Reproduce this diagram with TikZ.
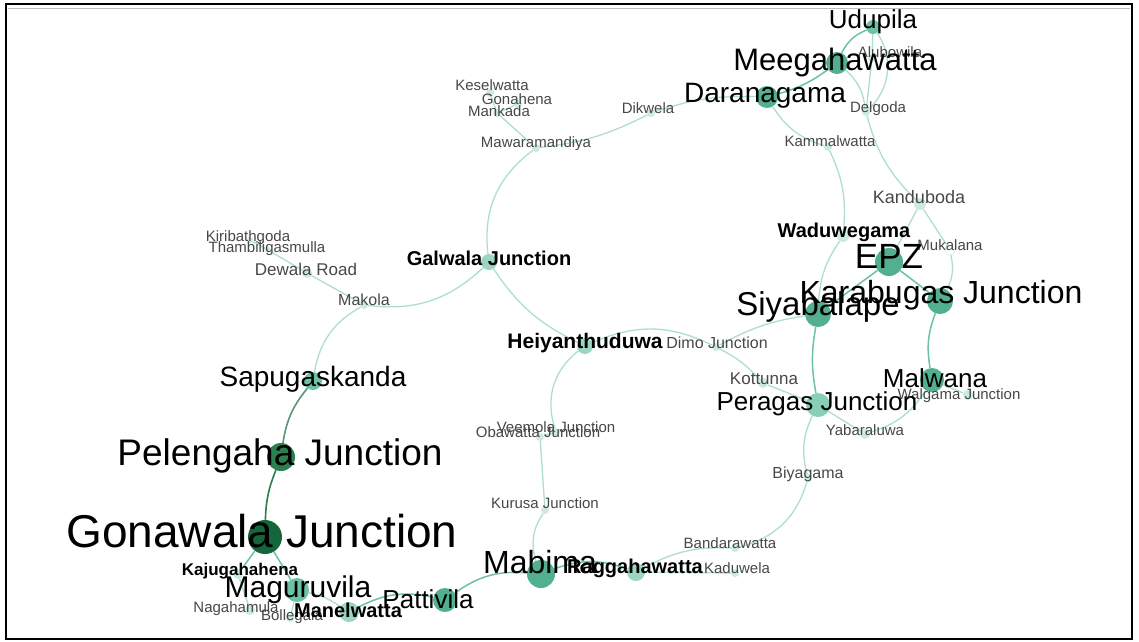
\documentclass[tikz,border=0pt]{standalone}
\usepackage{fontspec}
\setmainfont{Liberation Sans}
\usetikzlibrary{positioning}

\definecolor{gdark}{HTML}{15673B}
\definecolor{gdeep}{HTML}{2C7F4E}
\definecolor{gmid}{HTML}{52B08F}
\definecolor{gsoft}{HTML}{6CC2A4}
\definecolor{gpale}{HTML}{9AD6C0}
\definecolor{gfaint}{HTML}{CBEBDF}
\definecolor{ewire}{HTML}{AEDFCD}
\newcommand{\fsz}[1]{\fontsize{#1}{#1}\selectfont}

\begin{document}
\begin{tikzpicture}[
    x=1pt, y=-1pt,
    dot/.style={circle, inner sep=0pt, draw=none, fill=gfaint, minimum size=8pt},
    lbl/.style={anchor=base, inner sep=0pt, text=black},
    minor/.style={lbl, text=black!72, font=\fsz{15}},
    wire/.style={draw=ewire, line width=1.3pt},
    strong/.style={draw=gsoft, line width=1.5pt}
]
    \useasboundingbox (0,0) rectangle (1139,641);
    \fill[white] (0,0) rectangle (1139,641);
    \draw[black!25, line width=1pt] (8,8) -- (1130,8);
    \draw[black, line width=2pt] (6,4) rectangle (1132,639);

    % stations
    \node[dot, minimum size=14pt, fill=gsoft] (udu) at (873,27) {};
    \node[dot, minimum size=22pt, fill=gmid] (meeg) at (837,63) {};
    \node[dot] (alub) at (872,58) {};
    \node[dot, minimum size=22pt, fill=gmid] (dara) at (767,97) {};
    \node[dot] (delg) at (866,112) {};
    \node[dot] (kamm) at (828,147) {};
    \node[dot] (dikw) at (651,113) {};
    \node[dot] (kese) at (490,93) {};
    \node[dot] (gona) at (518,104) {};
    \node[dot] (mank) at (497,113) {};
    \node[dot] (mawa) at (536,148) {};
    \node[dot, minimum size=6pt] (kiri) at (250,240) {};
    \node[dot, minimum size=6pt] (tham) at (268,250) {};
    \node[dot, minimum size=10pt] (dewa) at (307,273) {};
    \node[dot] (mako) at (364,305) {};
    \node[dot, minimum size=16pt, fill=gpale] (galw) at (489,262) {};
    \node[dot, minimum size=12pt] (kand) at (920,204) {};
    \node[dot, minimum size=12pt] (wadu) at (843,236) {};
    \node[dot, minimum size=10pt, fill=white, draw=gfaint] (muka) at (950,250) {};
    \node[dot, minimum size=28pt, fill=gmid] (epz) at (889,262) {};
    \node[dot, minimum size=26pt, fill=gmid] (kara) at (940,301) {};
    \node[dot, minimum size=26pt, fill=gmid] (siya) at (818,314) {};
    \node[dot, minimum size=16pt, fill=gpale] (heiy) at (585,346) {};
    \node[dot] (dimo) at (716,347) {};
    \node[dot, minimum size=10pt] (kott) at (763,383) {};
    \node[dot, minimum size=24pt, fill=gsoft!80] (pera) at (818,405) {};
    \node[dot, minimum size=24pt, fill=gmid] (malw) at (932,380) {};
    \node[dot, minimum size=10pt] (walg) at (968,395) {};
    \node[dot, minimum size=10pt] (yaba) at (865,434) {};
    \node[dot] (biya) at (808,478) {};
    \node[dot] (veem) at (556,432) {};
    \node[dot] (obaw) at (540,437) {};
    \node[dot] (kuru) at (545,510) {};
    \node[dot] (band) at (735,548) {};
    \node[dot] (kadu) at (735,573) {};
    \node[dot, minimum size=18pt, fill=gpale] (ragg) at (636,572) {};
    \node[dot, minimum size=28pt, fill=gmid] (mabi) at (541,574) {};
    \node[dot, minimum size=24pt, fill=gmid] (patt) at (445,600) {};
    \node[dot, minimum size=20pt, fill=gpale] (mane) at (349,612) {};
    \node[dot, minimum size=24pt, fill=gsoft] (magu) at (297,590) {};
    \node[dot] (boll) at (290,618) {};
    \node[dot, minimum size=10pt] (naga) at (250,610) {};
    \node[dot, minimum size=10pt] (kaju) at (238,574) {};
    \node[dot, minimum size=34pt, fill=gdark] (gonw) at (265,537) {};
    \node[dot, minimum size=28pt, fill=gdeep] (pele) at (281,457) {};
    \node[dot, minimum size=18pt, fill=gsoft] (sapu) at (313,381) {};

    % links
    \draw[strong] (udu) to[bend right=20] (meeg);
    \draw[wire] (udu) to[bend left=40] (delg);
    \draw[wire] (udu) -- (alub);
    \draw[strong] (meeg) to[bend left=10] (dara);
    \draw[wire] (meeg) to[bend left=20] (delg);
    \draw[wire] (alub) -- (delg);
    \draw[wire] (delg) to[bend right=15] (kand);
    \draw[wire] (dara) to[bend right=20] (kamm);
    \draw[wire] (kamm) to[bend left=15] (wadu);
    \draw[wire] (dara) to[bend right=10] (dikw);
    \draw[wire] (dikw) to[bend left=10] (mawa);
    \draw[wire] (mawa) -- (mank);
    \draw[wire] (mank) -- (gona);
    \draw[wire] (mank) -- (kese);
    \draw[wire] (mawa) to[bend right=30] (galw);
    \draw[wire] (galw) to[bend left=25] (mako);
    \draw[wire] (mako) -- (dewa);
    \draw[wire] (dewa) -- (tham);
    \draw[wire] (tham) -- (kiri);
    \draw[wire] (mako) to[bend right=25] (sapu);
    \draw[draw=gdeep!80, line width=1.6pt] (sapu) to[bend right=15] (pele);
    \draw[draw=gdeep, line width=1.6pt] (pele) to[bend right=10] (gonw);
    \draw[strong] (gonw) -- (kaju);
    \draw[strong] (gonw) -- (magu);
    \draw[wire] (kaju) -- (naga);
    \draw[wire] (magu) -- (boll);
    \draw[wire] (magu) to[bend left=10] (mane);
    \draw[strong] (mane) to[bend left=20] (patt);
    \draw[strong] (patt) to[bend left=20] (mabi);
    \draw[strong] (mabi) to[bend left=20] (ragg);
    \draw[wire] (ragg) to[bend left=15] (band);
    \draw[wire] (ragg) -- (kadu);
    \draw[wire] (band) to[bend right=30] (biya);
    \draw[wire] (biya) to[bend left=20] (pera);
    \draw[wire] (pera) -- (yaba);
    \draw[wire] (yaba) to[bend right=20] (malw);
    \draw[wire] (malw) -- (walg);
    \draw[strong] (pera) to[bend left=10] (siya);
    \draw[wire] (kott) -- (pera);
    \draw[wire] (dimo) to[bend left=10] (kott);
    \draw[wire] (heiy) to[bend left=25] (dimo);
    \draw[wire] (dimo) to[bend left=10] (siya);
    \draw[wire] (galw) to[bend right=15] (heiy);
    \draw[wire] (heiy) to[bend right=35] (veem);
    \draw[wire] (veem) -- (obaw);
    \draw[wire] (obaw) -- (kuru);
    \draw[wire] (kuru) to[bend right=25] (mabi);
    \draw[strong] (siya) -- (epz);
    \draw[strong] (epz) -- (kara);
    \draw[wire] (siya) to[bend left=15] (wadu);
    \draw[wire] (kand) -- (epz);
    \draw[wire] (kand) -- (muka);
    \draw[wire] (muka) to[bend left=20] (kara);
    \draw[strong] (kara) to[bend right=15] (malw);

    % names
    \node[lbl, font=\fsz{26}] at (873,28) {Udupila};
    \node[minor] at (890,57) {Alubowila};
    \node[lbl, font=\fsz{31}] at (835,70) {Meegahawatta};
    \node[lbl, font=\fsz{28}] at (765,102) {Daranagama};
    \node[minor] at (878,112) {Delgoda};
    \node[minor] at (830,146) {Kammalwatta};
    \node[minor] at (648,113) {Dikwela};
    \node[minor] at (492,90) {Keselwatta};
    \node[minor] at (517,104) {Gonahena};
    \node[minor] at (499,116) {Mankada};
    \node[minor] at (536,147) {Mawaramandiya};
    \node[minor] at (248,241) {Kiribathgoda};
    \node[minor] at (267,252) {Thambiligasmulla};
    \node[minor, font=\fsz{17}] at (306,275) {Dewala Road};
    \node[minor, font=\fsz{16}] at (364,305) {Makola};
    \node[lbl, font=\bfseries\fsz{20}] at (489,265) {Galwala Junction};
    \node[minor, font=\fsz{18}] at (919,203) {Kanduboda};
    \node[lbl, font=\bfseries\fsz{20}] at (844,237) {Waduwegama};
    \node[minor] at (950,250) {Mukalana};
    \node[lbl, font=\fsz{35}] at (889,268) {EPZ};
    \node[lbl, font=\fsz{32}] at (941,303) {Karabugas Junction};
    \node[lbl, font=\fsz{33}] at (818,315) {Siyabalape};
    \node[lbl, font=\bfseries\fsz{21}] at (585,348) {Heiyanthuduwa};
    \node[minor, font=\fsz{16}] at (717,348) {Dimo Junction};
    \node[minor, font=\fsz{17}] at (764,384) {Kottunna};
    \node[lbl, font=\fsz{26}] at (935,387) {Malwana};
    \node[minor] at (959,399) {Walgama Junction};
    \node[lbl, font=\fsz{26}] at (817,410) {Peragas Junction};
    \node[minor] at (865,435) {Yabaraluwa};
    \node[minor, font=\fsz{16}] at (808,478) {Biyagama};
    \node[minor] at (556,432) {Veemola Junction};
    \node[minor] at (538,437) {Obawatta Junction};
    \node[minor] at (545,508) {Kurusa Junction};
    \node[minor] at (730,548) {Bandarawatta};
    \node[minor] at (737,573) {Kaduwela};
    \node[lbl, font=\fsz{28}] at (313,386) {Sapugaskanda};
    \node[lbl, font=\fsz{37}] at (280,465) {Pelengaha Junction};
    \node[lbl, font=\fsz{46}] at (262,547) {Gonawala Junction};
    \node[lbl, font=\bfseries\fsz{17}] at (240,575) {Kajugahahena};
    \node[lbl, font=\fsz{30}] at (298,597) {Maguruvila};
    \node[minor] at (236,612) {Nagahamula};
    \node[minor] at (292,620) {Bollegala};
    \node[lbl, font=\bfseries\fsz{20}] at (348,617) {Manelwatta};
    \node[lbl, font=\fsz{26}] at (428,608) {Pattivila};
    \node[lbl, font=\fsz{32}] at (540,573) {Mabima};
    \node[lbl, font=\bfseries\fsz{20}] at (635,573) {Raggahawatta};
\end{tikzpicture}
\end{document}
